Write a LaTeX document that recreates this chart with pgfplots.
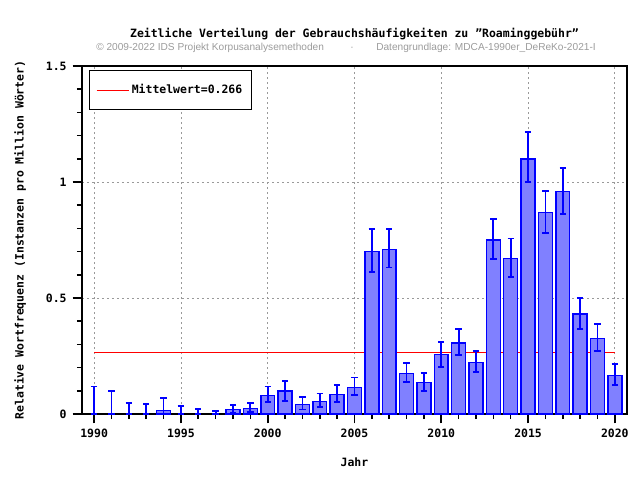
\documentclass[border=0pt]{standalone}
\usepackage{pgfplots}
\pgfplotsset{compat=1.18}
\usepackage{pgfplotstable}
\usepackage{fontspec}
\setmainfont{DejaVu Sans Mono}
\newfontfamily\subfont{Liberation Sans}
\definecolor{barfill}{RGB}{128,128,255}
\definecolor{subgray}{RGB}{155,155,155}
\pgfplotstableread{
year y ep em
1990 0     0.118 0
1991 0     0.100 0
1992 0     0.049 0
1993 0     0.044 0
1994 0.014 0.056 0.014
1995 0     0.036 0
1996 0     0.023 0
1997 0     0.014 0
1998 0.019 0.021 0.014
1999 0.023 0.026 0.015
2000 0.080 0.038 0.027
2001 0.100 0.042 0.043
2002 0.040 0.033 0.021
2003 0.053 0.035 0.023
2004 0.085 0.041 0.032
2005 0.115 0.042 0.032
2006 0.700 0.097 0.087
2007 0.708 0.089 0.077
2008 0.174 0.046 0.036
2009 0.135 0.042 0.036
2010 0.256 0.054 0.053
2011 0.307 0.059 0.053
2012 0.221 0.051 0.040
2013 0.751 0.090 0.083
2014 0.670 0.086 0.080
2015 1.100 0.116 0.100
2016 0.868 0.093 0.088
2017 0.958 0.102 0.096
2018 0.432 0.068 0.066
2019 0.325 0.064 0.053
2020 0.165 0.051 0.040
}\freq
\newcommand{\px}[2]{({(#1-82)*0.75pt},{(414-#2)*0.75pt})}
\begin{document}
\begin{tikzpicture}
\path[use as bounding box] (-61.5pt,-49.5pt) rectangle ++(480pt,360pt);
\begin{axis}[
  scale only axis,
  width=408.75pt, height=261pt,
  xmin=1989.3, xmax=2020.7,
  ymin=0, ymax=1.5,
  xtick={1990,1995,...,2020},
  minor xtick={1990,...,2020},
  ytick={0,0.5,1,1.5},
  yticklabels={0,0.5,1,1.5},
  minor ytick={0.1,0.2,...,1.45},
  tick pos=left,
  tick align=outside,
  major tick length=7pt,
  minor tick length=3.75pt,
  every tick/.style={black, line width=1.2pt},
  axis line style={line width=1.5pt},
  grid=major,
  major grid style={gray!80, line width=0.6pt, dash pattern=on 1.5pt off 2.25pt},
  /pgf/number format/assume math mode=true,
  xticklabel style={font=\fontsize{8.6}{10}\selectfont\bfseries, yshift=-1pt},
  yticklabel style={font=\fontsize{8.6}{10}\selectfont\bfseries, xshift=-1pt},
  xticklabel={\pgfmathprintnumber[1000 sep={}]{\tick}},
  xlabel={Jahr},
  xlabel style={font=\fontsize{8.6}{10}\selectfont\bfseries, yshift=-8pt},
  ylabel={Relative Wortfrequenz (Instanzen pro Million Wörter)},
  ylabel style={font=\fontsize{8.6}{10}\selectfont\bfseries, yshift=8pt},
  clip=false,
  legend style={at={(0,1)}, anchor=north west, xshift=5.25pt, yshift=-3pt,
    draw=black, line width=0.75pt, inner xsep=5pt, inner ysep=8.5pt,
    font=\fontsize{8.6}{10}\selectfont\bfseries},
  legend cell align=left,
  legend image code/.code={\draw[#1, line width=0.75pt] (0cm,0cm) -- (24pt,0cm);},
]
\addplot[red, line width=0.75pt] coordinates {(1990,0.266) (2020,0.266)};
\addlegendentry{Mittelwert=0.266\hspace{3pt}}
\addplot[ybar, bar width=0.8, fill=barfill, draw=blue, line width=1.1pt, forget plot,
  y filter/.expression={y==0 ? nan : y}]
  table[x=year, y=y] {\freq};
\addplot[draw=none, mark=none, forget plot,
  error bars/.cd, y dir=both, y explicit,
  error bar style={draw=blue, line width=1.3pt},
  error mark options={rotate=90, draw=blue, line width=1.3pt, mark size=2.4pt}]
  table[x=year, y=y, y error plus=ep, y error minus=em] {\freq};
\end{axis}
\node[anchor=base, font=\fontsize{8.6}{10}\selectfont\bfseries] at \px{354.5}{37} {Zeitliche Verteilung der Gebrauchshäufigkeiten zu "Roaminggebühr"};
\node[anchor=base west, inner sep=0pt, text=subgray, font=\subfont\fontsize{7.6}{9}\selectfont] at \px{96}{50} {© 2009-2022 IDS Projekt Korpusanalysemethoden};
\node[anchor=base, inner sep=0pt, text=subgray, font=\subfont\fontsize{7.6}{9}\selectfont] at \px{352}{50} {·};
\node[anchor=base west, inner sep=0pt, text=subgray, font=\subfont\fontsize{7.6}{9}\selectfont] at \px{376}{50} {Datengrundlage: MDCA-1990er\_DeReKo-2021-I};
\end{tikzpicture}
\end{document}
